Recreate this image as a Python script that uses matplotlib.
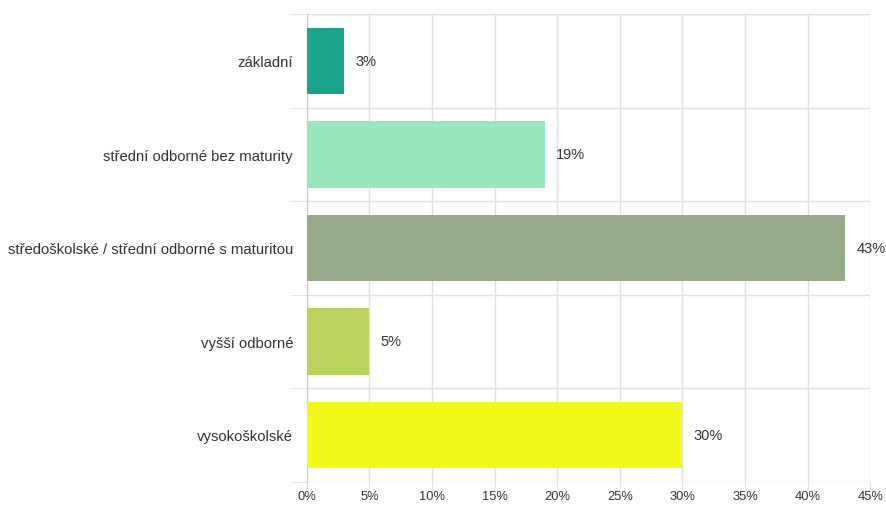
import numpy as np
import matplotlib.pyplot as plt

# data
categories = ["základní", "střední odborné bez maturity",
              "středoškolské / střední odborné s maturitou",
              "vyšší odborné", "vysokoškolské"]
values = [3, 19, 43, 5, 30]
colors = ["#1aa58a", "#98e6bb", "#97ab8a", "#b9d35c", "#f0f91a"]
xticks = [0, 5, 10, 15, 20, 25, 30, 35, 40, 45]

plt.rcParams['font.family'] = ['Liberation Sans', 'DejaVu Sans']

fig = plt.figure(figsize=(8.87, 5.06), dpi=100)
ax = fig.add_axes([0.346, 0.046, 0.635, 0.924])

grid_col = "#e0e0e0"
text_col = "#333333"
y = np.arange(len(categories))
ax.barh(y, values, height=0.71, color=colors, zorder=3)

# value labels
for yi, v in zip(y, values):
    ax.text(v + 0.9, yi, f"{v}%", va="center", ha="left",
            fontsize=10.5, color=text_col)

ax.set_xlim(0, 45)
ax.set_ylim(len(categories) - 0.5, -0.5)

ax.set_xticks(xticks)
ax.set_xticklabels([f"{t}%" for t in xticks], fontsize=9.3, color=text_col)
ax.set_yticks(y)
ax.set_yticklabels(categories, fontsize=10.7, color=text_col)
ax.tick_params(axis="y", which="major", length=0, pad=10)
ax.tick_params(axis="x", length=5, color=grid_col, pad=1)

# category separators, sticking out to the left a bit
bounds = np.arange(len(categories) + 1) - 0.5
ax.set_yticks(bounds, minor=True)
ax.tick_params(axis="y", which="minor", length=12, color=grid_col)
for b in bounds:
    ax.axhline(b, color=grid_col, lw=1, zorder=1)

ax.xaxis.grid(True, color=grid_col, lw=1, zorder=1)
ax.set_axisbelow(True)
for side in ["top", "right", "bottom"]:
    ax.spines[side].set_visible(False)
ax.spines["left"].set_color("#c8c8c8")

fig.savefig("out.png", dpi=100)
